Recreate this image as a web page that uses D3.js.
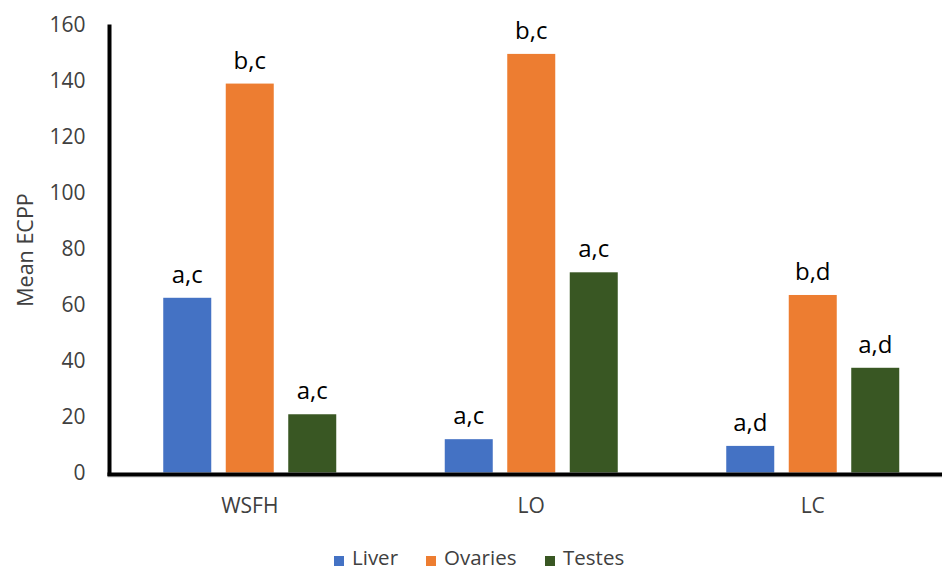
<!DOCTYPE html>
<html><head><meta charset="utf-8">
<script src="https://cdn.jsdelivr.net/npm/d3@7/dist/d3.min.js"></script>
<style>html,body{margin:0;padding:0;background:#fff;}</style>
</head><body>
<svg id="c" width="942" height="571"></svg>
<script>
const categories = ["WSFH", "LO", "LC"];
const series = ["Liver", "Ovaries", "Testes"];
const liver = [62.4, 11.9, 9.5];
const ovaries = [138.9, 149.5, 63.4];
const testes = [20.8, 71.5, 37.4];
const liverLabels = ["a,c", "a,c", "a,d"];
const ovariesLabels = ["b,c", "b,c", "b,d"];
const testesLabels = ["a,c", "a,c", "a,d"];
const yTicks = [0, 20, 40, 60, 80, 100, 120, 140, 160];
const colors = ["#4472C4", "#ED7D31", "#395723"];

const values = [liver, ovaries, testes];
const labels = [liverLabels, ovariesLabels, testesLabels];
const font = "'Open Sans', sans-serif";

const svg = d3.select("#c");
const y = d3.scaleLinear().domain([0, 160]).range([472.5, 24.5]);
const x0 = d3.scaleBand().domain(categories).range([109, 953.5]);
const x1 = d3.scaleBand().domain(series).range([0, 187.5]).paddingInner(0.232).paddingOuter(0.116);

const data = [];
categories.forEach((c, ci) => series.forEach((s, si) => {
  data.push({c, s, si, v: values[si][ci], lab: labels[si][ci]});
}));
const bx = d => x0(d.c) + x0.bandwidth() / 2 - 93.75 + x1(d.s);

svg.selectAll("rect.bar").data(data).join("rect").attr("class", "bar")
  .attr("x", bx).attr("width", x1.bandwidth())
  .attr("y", d => y(d.v)).attr("height", d => y(0) - y(d.v))
  .attr("fill", d => colors[d.si]);

svg.selectAll("text.lab").data(data).join("text").attr("class", "lab")
  .attr("x", d => bx(d) + x1.bandwidth() / 2).attr("y", d => y(d.v) - 15)
  .attr("text-anchor", "middle").attr("font-family", font).attr("font-size", 24)
  .attr("fill", "#000").text(d => d.lab);

// Y axis
const yAxis = d3.axisLeft(y).tickValues(yTicks).tickSize(0).tickPadding(24);
const gy = svg.append("g").attr("transform", "translate(109.5,0)").call(yAxis);
gy.select(".domain").remove();
gy.selectAll("text").attr("font-family", font).attr("font-size", 21).attr("fill", "#404040");
svg.append("line").attr("x1", 109.5).attr("x2", 109.5).attr("y1", 24.5).attr("y2", 476)
  .attr("stroke", "#000").attr("stroke-width", 4);

// X axis
const xAxis = d3.axisBottom(x0).tickSize(0).tickPadding(0);
const gx = svg.append("g").attr("transform", "translate(0,474)").call(xAxis);
gx.select(".domain").remove();
gx.selectAll("text").attr("font-family", font).attr("font-size", 21).attr("fill", "#404040")
  .attr("dy", null).attr("y", 39);
svg.append("line").attr("x1", 107.5).attr("x2", 942).attr("y1", 477).attr("y2", 477)
  .attr("stroke", "#d0d0d0").attr("stroke-width", 1);
svg.append("line").attr("x1", 107.5).attr("x2", 942).attr("y1", 474.5).attr("y2", 474.5)
  .attr("stroke", "#000").attr("stroke-width", 4);

// Y title
svg.append("text").attr("transform", "translate(33,250) rotate(-90)")
  .attr("text-anchor", "middle").attr("font-family", font).attr("font-size", 21.5)
  .attr("fill", "#404040").text("Mean ECPP");

// Legend
const legX = [334, 426, 545];
const leg = svg.append("g");
series.forEach((s, i) => {
  leg.append("rect").attr("x", legX[i]).attr("y", 556).attr("width", 10).attr("height", 10).attr("fill", colors[i]);
  leg.append("text").attr("x", legX[i] + 18).attr("y", 565).attr("font-family", font)
    .attr("font-size", 20.5).attr("fill", "#404040").text(s);
});
</script>
</body></html>
